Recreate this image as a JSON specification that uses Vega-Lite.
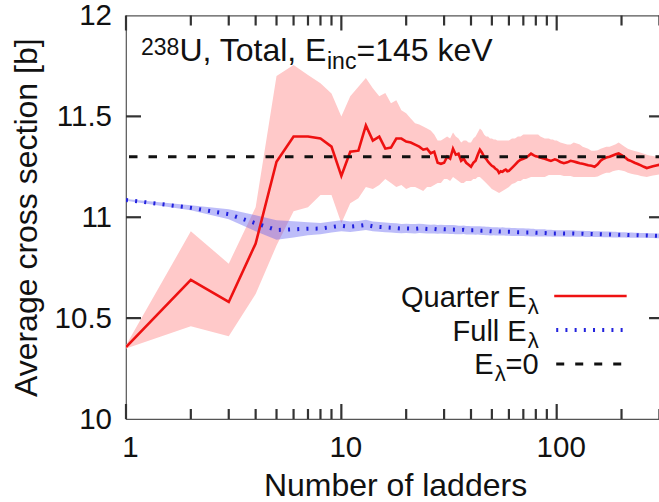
{
  "$schema": "https://vega.github.io/schema/vega-lite/v6.json",
  "width": 538,
  "height": 403.5,
  "autosize": "none",
  "padding": {"left": 126, "top": 15.5, "right": 0, "bottom": 83},
  "background": "white",
  "config": {
    "font": "Liberation Sans",
    "view": {"stroke": "#555555", "strokeWidth": 1.2},
    "axis": {
      "domain": false,
      "grid": false,
      "ticks": false,
      "tickSize": 0,
      "labelFont": "Liberation Sans",
      "labelFontSize": 29.5,
      "labelColor": "#111111",
      "titleFont": "Liberation Sans",
      "titleFontSize": 32,
      "titleFontWeight": "normal",
      "titleColor": "#111111"
    }
  },
  "datasets": {
    "ladders": [
      {"n": 1, "q": 10.356, "q_lo": 10.350, "q_hi": 10.365, "f": 11.086, "f_lo": 11.082, "f_hi": 11.090},
      {"n": 2, "q": 10.690, "q_lo": 10.460, "q_hi": 10.930, "f": 11.047, "f_lo": 11.035, "f_hi": 11.059},
      {"n": 3, "q": 10.580, "q_lo": 10.410, "q_hi": 10.770, "f": 11.015, "f_lo": 10.990, "f_hi": 11.040},
      {"n": 4, "q": 10.870, "q_lo": 10.620, "q_hi": 11.050, "f": 10.970, "f_lo": 10.930, "f_hi": 11.010},
      {"n": 5, "q": 11.275, "q_lo": 10.860, "q_hi": 11.700, "f": 10.937, "f_lo": 10.889, "f_hi": 10.985},
      {"n": 6, "q": 11.400, "q_lo": 11.030, "q_hi": 11.755, "f": 10.940, "f_lo": 10.900, "f_hi": 10.980},
      {"n": 7, "q": 11.400, "q_lo": 11.050, "q_hi": 11.705, "f": 10.943, "f_lo": 10.911, "f_hi": 10.975},
      {"n": 8, "q": 11.390, "q_lo": 11.110, "q_hi": 11.664, "f": 10.944, "f_lo": 10.916, "f_hi": 10.972},
      {"n": 9, "q": 11.350, "q_lo": 11.110, "q_hi": 11.614, "f": 10.952, "f_lo": 10.925, "f_hi": 10.979},
      {"n": 10, "q": 11.205, "q_lo": 10.970, "q_hi": 11.500, "f": 10.958, "f_lo": 10.931, "f_hi": 10.985},
      {"n": 11, "q": 11.325, "q_lo": 11.070, "q_hi": 11.600, "f": 10.953, "f_lo": 10.927, "f_hi": 10.979},
      {"n": 12, "q": 11.330, "q_lo": 11.094, "q_hi": 11.647, "f": 10.957, "f_lo": 10.932, "f_hi": 10.982},
      {"n": 13, "q": 11.455, "q_lo": 11.150, "q_hi": 11.690, "f": 10.962, "f_lo": 10.937, "f_hi": 10.987},
      {"n": 14, "q": 11.380, "q_lo": 11.140, "q_hi": 11.640, "f": 10.955, "f_lo": 10.931, "f_hi": 10.979},
      {"n": 15, "q": 11.400, "q_lo": 11.160, "q_hi": 11.600, "f": 10.952, "f_lo": 10.928, "f_hi": 10.976},
      {"n": 16, "q": 11.340, "q_lo": 11.190, "q_hi": 11.616, "f": 10.950, "f_lo": 10.926, "f_hi": 10.974},
      {"n": 17, "q": 11.345, "q_lo": 11.170, "q_hi": 11.565, "f": 10.948, "f_lo": 10.924, "f_hi": 10.972},
      {"n": 18, "q": 11.390, "q_lo": 11.150, "q_hi": 11.580, "f": 10.946, "f_lo": 10.922, "f_hi": 10.970},
      {"n": 19, "q": 11.390, "q_lo": 11.160, "q_hi": 11.530, "f": 10.944, "f_lo": 10.921, "f_hi": 10.967},
      {"n": 20, "q": 11.375, "q_lo": 11.140, "q_hi": 11.515, "f": 10.945, "f_lo": 10.922, "f_hi": 10.968},
      {"n": 21, "q": 11.370, "q_lo": 11.150, "q_hi": 11.490, "f": 10.944, "f_lo": 10.921, "f_hi": 10.967},
      {"n": 22, "q": 11.360, "q_lo": 11.150, "q_hi": 11.466, "f": 10.943, "f_lo": 10.920, "f_hi": 10.966},
      {"n": 23, "q": 11.350, "q_lo": 11.140, "q_hi": 11.460, "f": 10.945, "f_lo": 10.922, "f_hi": 10.968},
      {"n": 24, "q": 11.335, "q_lo": 11.130, "q_hi": 11.450, "f": 10.944, "f_lo": 10.921, "f_hi": 10.967},
      {"n": 25, "q": 11.340, "q_lo": 11.150, "q_hi": 11.440, "f": 10.942, "f_lo": 10.920, "f_hi": 10.964},
      {"n": 26, "q": 11.317, "q_lo": 11.150, "q_hi": 11.430, "f": 10.941, "f_lo": 10.919, "f_hi": 10.963},
      {"n": 27, "q": 11.325, "q_lo": 11.160, "q_hi": 11.410, "f": 10.942, "f_lo": 10.920, "f_hi": 10.964},
      {"n": 28, "q": 11.270, "q_lo": 11.170, "q_hi": 11.380, "f": 10.940, "f_lo": 10.918, "f_hi": 10.962},
      {"n": 29, "q": 11.265, "q_lo": 11.170, "q_hi": 11.380, "f": 10.941, "f_lo": 10.919, "f_hi": 10.963},
      {"n": 30, "q": 11.270, "q_lo": 11.190, "q_hi": 11.390, "f": 10.940, "f_lo": 10.918, "f_hi": 10.962},
      {"n": 31, "q": 11.300, "q_lo": 11.190, "q_hi": 11.400, "f": 10.940, "f_lo": 10.918, "f_hi": 10.962},
      {"n": 32, "q": 11.290, "q_lo": 11.180, "q_hi": 11.390, "f": 10.939, "f_lo": 10.917, "f_hi": 10.961},
      {"n": 33, "q": 11.340, "q_lo": 11.200, "q_hi": 11.420, "f": 10.939, "f_lo": 10.917, "f_hi": 10.961},
      {"n": 34, "q": 11.310, "q_lo": 11.190, "q_hi": 11.400, "f": 10.938, "f_lo": 10.916, "f_hi": 10.960},
      {"n": 35, "q": 11.315, "q_lo": 11.180, "q_hi": 11.390, "f": 10.937, "f_lo": 10.916, "f_hi": 10.958},
      {"n": 36, "q": 11.280, "q_lo": 11.170, "q_hi": 11.370, "f": 10.937, "f_lo": 10.916, "f_hi": 10.958},
      {"n": 37, "q": 11.290, "q_lo": 11.170, "q_hi": 11.380, "f": 10.938, "f_lo": 10.917, "f_hi": 10.959},
      {"n": 38, "q": 11.270, "q_lo": 11.180, "q_hi": 11.380, "f": 10.936, "f_lo": 10.915, "f_hi": 10.957},
      {"n": 39, "q": 11.260, "q_lo": 11.180, "q_hi": 11.370, "f": 10.936, "f_lo": 10.915, "f_hi": 10.957},
      {"n": 40, "q": 11.250, "q_lo": 11.180, "q_hi": 11.370, "f": 10.935, "f_lo": 10.914, "f_hi": 10.956},
      {"n": 41, "q": 11.270, "q_lo": 11.190, "q_hi": 11.390, "f": 10.935, "f_lo": 10.914, "f_hi": 10.956},
      {"n": 42, "q": 11.280, "q_lo": 11.190, "q_hi": 11.400, "f": 10.934, "f_lo": 10.913, "f_hi": 10.955},
      {"n": 43, "q": 11.310, "q_lo": 11.200, "q_hi": 11.420, "f": 10.935, "f_lo": 10.914, "f_hi": 10.956},
      {"n": 44, "q": 11.335, "q_lo": 11.200, "q_hi": 11.440, "f": 10.934, "f_lo": 10.913, "f_hi": 10.955},
      {"n": 45, "q": 11.320, "q_lo": 11.190, "q_hi": 11.430, "f": 10.933, "f_lo": 10.912, "f_hi": 10.954},
      {"n": 46, "q": 11.300, "q_lo": 11.180, "q_hi": 11.410, "f": 10.933, "f_lo": 10.912, "f_hi": 10.954},
      {"n": 47, "q": 11.290, "q_lo": 11.170, "q_hi": 11.400, "f": 10.932, "f_lo": 10.911, "f_hi": 10.953},
      {"n": 48, "q": 11.275, "q_lo": 11.160, "q_hi": 11.400, "f": 10.932, "f_lo": 10.911, "f_hi": 10.953},
      {"n": 49, "q": 11.265, "q_lo": 11.150, "q_hi": 11.390, "f": 10.931, "f_lo": 10.910, "f_hi": 10.952},
      {"n": 50, "q": 11.255, "q_lo": 11.140, "q_hi": 11.390, "f": 10.930, "f_lo": 10.910, "f_hi": 10.950},
      {"n": 51, "q": 11.250, "q_lo": 11.135, "q_hi": 11.385, "f": 10.931, "f_lo": 10.911, "f_hi": 10.951},
      {"n": 52, "q": 11.240, "q_lo": 11.130, "q_hi": 11.385, "f": 10.930, "f_lo": 10.910, "f_hi": 10.950},
      {"n": 53, "q": 11.235, "q_lo": 11.125, "q_hi": 11.380, "f": 10.930, "f_lo": 10.910, "f_hi": 10.950},
      {"n": 54, "q": 11.220, "q_lo": 11.120, "q_hi": 11.380, "f": 10.929, "f_lo": 10.909, "f_hi": 10.949},
      {"n": 55, "q": 11.228, "q_lo": 11.125, "q_hi": 11.380, "f": 10.929, "f_lo": 10.909, "f_hi": 10.949},
      {"n": 56, "q": 11.225, "q_lo": 11.130, "q_hi": 11.380, "f": 10.930, "f_lo": 10.910, "f_hi": 10.950},
      {"n": 57, "q": 11.232, "q_lo": 11.135, "q_hi": 11.380, "f": 10.929, "f_lo": 10.909, "f_hi": 10.949},
      {"n": 58, "q": 11.236, "q_lo": 11.140, "q_hi": 11.380, "f": 10.928, "f_lo": 10.908, "f_hi": 10.948},
      {"n": 59, "q": 11.228, "q_lo": 11.145, "q_hi": 11.380, "f": 10.928, "f_lo": 10.908, "f_hi": 10.948},
      {"n": 60, "q": 11.230, "q_lo": 11.150, "q_hi": 11.380, "f": 10.928, "f_lo": 10.908, "f_hi": 10.948},
      {"n": 62, "q": 11.245, "q_lo": 11.165, "q_hi": 11.390, "f": 10.927, "f_lo": 10.907, "f_hi": 10.947},
      {"n": 64, "q": 11.260, "q_lo": 11.170, "q_hi": 11.390, "f": 10.927, "f_lo": 10.907, "f_hi": 10.947},
      {"n": 66, "q": 11.275, "q_lo": 11.180, "q_hi": 11.400, "f": 10.926, "f_lo": 10.907, "f_hi": 10.945},
      {"n": 68, "q": 11.285, "q_lo": 11.180, "q_hi": 11.400, "f": 10.926, "f_lo": 10.907, "f_hi": 10.945},
      {"n": 70, "q": 11.290, "q_lo": 11.190, "q_hi": 11.410, "f": 10.926, "f_lo": 10.907, "f_hi": 10.945},
      {"n": 72, "q": 11.296, "q_lo": 11.190, "q_hi": 11.410, "f": 10.925, "f_lo": 10.906, "f_hi": 10.944},
      {"n": 74, "q": 11.305, "q_lo": 11.195, "q_hi": 11.410, "f": 10.925, "f_lo": 10.906, "f_hi": 10.944},
      {"n": 76, "q": 11.315, "q_lo": 11.200, "q_hi": 11.410, "f": 10.924, "f_lo": 10.905, "f_hi": 10.943},
      {"n": 78, "q": 11.308, "q_lo": 11.200, "q_hi": 11.410, "f": 10.924, "f_lo": 10.905, "f_hi": 10.943},
      {"n": 80, "q": 11.302, "q_lo": 11.200, "q_hi": 11.410, "f": 10.923, "f_lo": 10.905, "f_hi": 10.941},
      {"n": 82, "q": 11.300, "q_lo": 11.200, "q_hi": 11.410, "f": 10.923, "f_lo": 10.905, "f_hi": 10.941},
      {"n": 84, "q": 11.296, "q_lo": 11.200, "q_hi": 11.400, "f": 10.922, "f_lo": 10.904, "f_hi": 10.940},
      {"n": 86, "q": 11.292, "q_lo": 11.200, "q_hi": 11.395, "f": 10.922, "f_lo": 10.904, "f_hi": 10.940},
      {"n": 88, "q": 11.290, "q_lo": 11.200, "q_hi": 11.390, "f": 10.922, "f_lo": 10.904, "f_hi": 10.940},
      {"n": 90, "q": 11.286, "q_lo": 11.205, "q_hi": 11.390, "f": 10.921, "f_lo": 10.904, "f_hi": 10.938},
      {"n": 92, "q": 11.282, "q_lo": 11.210, "q_hi": 11.390, "f": 10.921, "f_lo": 10.904, "f_hi": 10.938},
      {"n": 94, "q": 11.279, "q_lo": 11.210, "q_hi": 11.385, "f": 10.921, "f_lo": 10.904, "f_hi": 10.938},
      {"n": 96, "q": 11.283, "q_lo": 11.210, "q_hi": 11.385, "f": 10.920, "f_lo": 10.903, "f_hi": 10.937},
      {"n": 98, "q": 11.287, "q_lo": 11.210, "q_hi": 11.380, "f": 10.920, "f_lo": 10.903, "f_hi": 10.937},
      {"n": 100, "q": 11.284, "q_lo": 11.210, "q_hi": 11.380, "f": 10.920, "f_lo": 10.904, "f_hi": 10.936},
      {"n": 104, "q": 11.274, "q_lo": 11.210, "q_hi": 11.370, "f": 10.920, "f_lo": 10.904, "f_hi": 10.936},
      {"n": 108, "q": 11.268, "q_lo": 11.205, "q_hi": 11.365, "f": 10.919, "f_lo": 10.903, "f_hi": 10.935},
      {"n": 112, "q": 11.272, "q_lo": 11.205, "q_hi": 11.360, "f": 10.919, "f_lo": 10.903, "f_hi": 10.935},
      {"n": 116, "q": 11.280, "q_lo": 11.205, "q_hi": 11.360, "f": 10.919, "f_lo": 10.903, "f_hi": 10.935},
      {"n": 120, "q": 11.276, "q_lo": 11.200, "q_hi": 11.370, "f": 10.919, "f_lo": 10.903, "f_hi": 10.935},
      {"n": 124, "q": 11.272, "q_lo": 11.200, "q_hi": 11.365, "f": 10.918, "f_lo": 10.903, "f_hi": 10.933},
      {"n": 128, "q": 11.268, "q_lo": 11.200, "q_hi": 11.360, "f": 10.918, "f_lo": 10.903, "f_hi": 10.933},
      {"n": 132, "q": 11.265, "q_lo": 11.200, "q_hi": 11.350, "f": 10.918, "f_lo": 10.903, "f_hi": 10.933},
      {"n": 136, "q": 11.262, "q_lo": 11.200, "q_hi": 11.345, "f": 10.917, "f_lo": 10.902, "f_hi": 10.932},
      {"n": 140, "q": 11.258, "q_lo": 11.200, "q_hi": 11.340, "f": 10.917, "f_lo": 10.902, "f_hi": 10.932},
      {"n": 145, "q": 11.255, "q_lo": 11.200, "q_hi": 11.330, "f": 10.917, "f_lo": 10.902, "f_hi": 10.932},
      {"n": 150, "q": 11.250, "q_lo": 11.200, "q_hi": 11.330, "f": 10.916, "f_lo": 10.902, "f_hi": 10.930},
      {"n": 155, "q": 11.262, "q_lo": 11.202, "q_hi": 11.332, "f": 10.916, "f_lo": 10.902, "f_hi": 10.930},
      {"n": 160, "q": 11.280, "q_lo": 11.210, "q_hi": 11.340, "f": 10.916, "f_lo": 10.902, "f_hi": 10.930},
      {"n": 165, "q": 11.290, "q_lo": 11.215, "q_hi": 11.345, "f": 10.915, "f_lo": 10.901, "f_hi": 10.929},
      {"n": 170, "q": 11.296, "q_lo": 11.220, "q_hi": 11.350, "f": 10.915, "f_lo": 10.901, "f_hi": 10.929},
      {"n": 176, "q": 11.300, "q_lo": 11.220, "q_hi": 11.350, "f": 10.915, "f_lo": 10.901, "f_hi": 10.929},
      {"n": 182, "q": 11.306, "q_lo": 11.228, "q_hi": 11.356, "f": 10.914, "f_lo": 10.900, "f_hi": 10.928},
      {"n": 188, "q": 11.312, "q_lo": 11.232, "q_hi": 11.362, "f": 10.914, "f_lo": 10.900, "f_hi": 10.928},
      {"n": 194, "q": 11.316, "q_lo": 11.234, "q_hi": 11.370, "f": 10.913, "f_lo": 10.900, "f_hi": 10.926},
      {"n": 200, "q": 11.308, "q_lo": 11.232, "q_hi": 11.360, "f": 10.913, "f_lo": 10.900, "f_hi": 10.926},
      {"n": 207, "q": 11.298, "q_lo": 11.228, "q_hi": 11.350, "f": 10.913, "f_lo": 10.900, "f_hi": 10.926},
      {"n": 214, "q": 11.285, "q_lo": 11.220, "q_hi": 11.340, "f": 10.912, "f_lo": 10.899, "f_hi": 10.925},
      {"n": 222, "q": 11.278, "q_lo": 11.215, "q_hi": 11.333, "f": 10.912, "f_lo": 10.899, "f_hi": 10.925},
      {"n": 230, "q": 11.270, "q_lo": 11.212, "q_hi": 11.328, "f": 10.911, "f_lo": 10.899, "f_hi": 10.923},
      {"n": 238, "q": 11.264, "q_lo": 11.210, "q_hi": 11.325, "f": 10.911, "f_lo": 10.899, "f_hi": 10.923},
      {"n": 246, "q": 11.257, "q_lo": 11.205, "q_hi": 11.320, "f": 10.910, "f_lo": 10.898, "f_hi": 10.922},
      {"n": 254, "q": 11.250, "q_lo": 11.202, "q_hi": 11.315, "f": 10.910, "f_lo": 10.898, "f_hi": 10.922},
      {"n": 262, "q": 11.244, "q_lo": 11.200, "q_hi": 11.310, "f": 10.910, "f_lo": 10.898, "f_hi": 10.922},
      {"n": 270, "q": 11.248, "q_lo": 11.203, "q_hi": 11.306, "f": 10.909, "f_lo": 10.897, "f_hi": 10.921},
      {"n": 280, "q": 11.253, "q_lo": 11.207, "q_hi": 11.303, "f": 10.909, "f_lo": 10.897, "f_hi": 10.921},
      {"n": 290, "q": 11.257, "q_lo": 11.210, "q_hi": 11.300, "f": 10.908, "f_lo": 10.896, "f_hi": 10.920},
      {"n": 300, "q": 11.260, "q_lo": 11.212, "q_hi": 11.300, "f": 10.908, "f_lo": 10.896, "f_hi": 10.920},
      {"n": 315, "q": 11.260, "q_lo": 11.215, "q_hi": 11.305, "f": 10.907, "f_lo": 10.895, "f_hi": 10.919}
    ]
  },
  "data": {"name": "ladders"},
  "layer": [
    {
      "mark": {"type": "area", "color": "#ffc9c9", "clip": true},
      "encoding": {
        "x": {
          "field": "n", "type": "quantitative",
          "scale": {"type": "log", "domain": [1, 315], "nice": false},
          "axis": {
            "orient": "bottom",
            "values": [1, 10, 100],
            "format": "~g",
            "labelPadding": 14,
            "labelBaseline": "top",
            "labelFlush": false,
            "labelOverlap": false,
            "labelOffset": 4,
            "title": "Number of ladders",
            "titleY": 76,
            "titleBaseline": "alphabetic"
          }
        },
        "y": {
          "field": "q_lo", "type": "quantitative",
          "scale": {"domain": [10, 12], "nice": false},
          "axis": {
            "orient": "left",
            "values": [10, 10.5, 11, 11.5, 12],
            "format": "~g",
            "labelPadding": 14.5,
            "labelOverlap": false,
            "title": "Average cross section [b]",
            "titleX": -90,
            "titleBaseline": "alphabetic"
          }
        },
        "y2": {"field": "q_hi"}
      }
    },
    {
      "mark": {"type": "area", "color": "#5a5af0", "opacity": 0.4, "clip": true},
      "encoding": {
        "x": {"field": "n", "type": "quantitative", "axis": null},
        "y": {"field": "f_lo", "type": "quantitative", "axis": null},
        "y2": {"field": "f_hi"}
      }
    },
    {
      "mark": {"type": "line", "color": "#ee1111", "strokeWidth": 2.6, "clip": true},
      "encoding": {
        "x": {"field": "n", "type": "quantitative", "axis": null},
        "y": {"field": "q", "type": "quantitative", "axis": null}
      }
    },
    {
      "mark": {"type": "line", "color": "#2222dd", "strokeWidth": 4, "strokeDash": [2, 7.2], "clip": true},
      "encoding": {
        "x": {"field": "n", "type": "quantitative", "axis": null},
        "y": {"field": "f", "type": "quantitative", "axis": null}
      }
    },
    {
      "data": {"values": [{"level": 11.3}]},
      "mark": {"type": "rule", "color": "#111111", "strokeWidth": 3, "strokeDash": [8.5, 11]},
      "encoding": {
        "y": {"field": "level", "type": "quantitative", "axis": null}
      }
    },
    {
      "transform": [{"filter": {"field": "n", "oneOf": [1, 10, 100]}}],
      "layer": [
        {
          "mark": {"type": "rule", "color": "#333333", "strokeWidth": 2.2},
          "encoding": {
            "x": {"field": "n", "type": "quantitative", "axis": null},
            "y": {"datum": 10, "type": "quantitative", "axis": null},
            "y2": {"datum": 10.0743}
          }
        },
        {
          "mark": {"type": "rule", "color": "#333333", "strokeWidth": 2.2},
          "encoding": {
            "x": {"field": "n", "type": "quantitative", "axis": null},
            "y": {"datum": 12, "type": "quantitative", "axis": null},
            "y2": {"datum": 11.9257}
          }
        }
      ]
    },
    {
      "transform": [{"filter": {"field": "n", "oneOf": [2, 3, 4, 5, 6, 7, 8, 9, 20, 30, 40, 50, 60, 70, 80, 90, 200, 300]}}],
      "layer": [
        {
          "mark": {"type": "rule", "color": "#333333", "strokeWidth": 2.2},
          "encoding": {
            "x": {"field": "n", "type": "quantitative", "axis": null},
            "y": {"datum": 10, "type": "quantitative", "axis": null},
            "y2": {"datum": 10.0496}
          }
        },
        {
          "mark": {"type": "rule", "color": "#333333", "strokeWidth": 2.2},
          "encoding": {
            "x": {"field": "n", "type": "quantitative", "axis": null},
            "y": {"datum": 12, "type": "quantitative", "axis": null},
            "y2": {"datum": 11.9504}
          }
        }
      ]
    },
    {
      "data": {"values": [{"key": "ticks"}]},
      "layer": [
        {"mark": {"type": "rule", "color": "#333333", "strokeWidth": 2.2}, "encoding": {"x": {"datum": 1, "type": "quantitative", "axis": null}, "x2": {"datum": 1.1738}, "y": {"datum": 10.5, "type": "quantitative", "axis": null}}},
        {"mark": {"type": "rule", "color": "#333333", "strokeWidth": 2.2}, "encoding": {"x": {"datum": 1, "type": "quantitative", "axis": null}, "x2": {"datum": 1.1738}, "y": {"datum": 11, "type": "quantitative", "axis": null}}},
        {"mark": {"type": "rule", "color": "#333333", "strokeWidth": 2.2}, "encoding": {"x": {"datum": 1, "type": "quantitative", "axis": null}, "x2": {"datum": 1.1738}, "y": {"datum": 11.5, "type": "quantitative", "axis": null}}},
        {"mark": {"type": "rule", "color": "#333333", "strokeWidth": 2.2}, "encoding": {"x": {"datum": 268.4, "type": "quantitative", "axis": null}, "x2": {"datum": 315}, "y": {"datum": 10.5, "type": "quantitative", "axis": null}}},
        {"mark": {"type": "rule", "color": "#333333", "strokeWidth": 2.2}, "encoding": {"x": {"datum": 268.4, "type": "quantitative", "axis": null}, "x2": {"datum": 315}, "y": {"datum": 11, "type": "quantitative", "axis": null}}},
        {"mark": {"type": "rule", "color": "#333333", "strokeWidth": 2.2}, "encoding": {"x": {"datum": 268.4, "type": "quantitative", "axis": null}, "x2": {"datum": 315}, "y": {"datum": 11.5, "type": "quantitative", "axis": null}}}
      ]
    },
    {
      "data": {"values": [{"key": "legend"}]},
      "layer": [
        {
          "mark": {"type": "rule", "color": "#ee1111", "strokeWidth": 2.6},
          "encoding": {
            "x": {"datum": 97.4, "type": "quantitative", "axis": null},
            "x2": {"datum": 211.3},
            "y": {"datum": 10.61, "type": "quantitative", "axis": null}
          }
        },
        {
          "mark": {"type": "rule", "color": "#2222dd", "strokeWidth": 4, "strokeDash": [2, 7.2]},
          "encoding": {
            "x": {"datum": 99.5, "type": "quantitative", "axis": null},
            "x2": {"datum": 211.3},
            "y": {"datum": 10.441, "type": "quantitative", "axis": null}
          }
        },
        {
          "mark": {"type": "rule", "color": "#111111", "strokeWidth": 3, "strokeDash": [8, 11]},
          "encoding": {
            "x": {"datum": 99.5, "type": "quantitative", "axis": null},
            "x2": {"datum": 211.3},
            "y": {"datum": 10.273, "type": "quantitative", "axis": null}
          }
        },
        {
          "mark": {"type": "text", "align": "right", "baseline": "alphabetic", "fontSize": 29, "color": "#111111", "dx": -12},
          "encoding": {
            "x": {"datum": 82.5, "type": "quantitative", "axis": null},
            "y": {"datum": 10.5576, "type": "quantitative", "axis": null},
            "text": {"value": "Quarter E"}
          }
        },
        {
          "mark": {"type": "text", "align": "right", "baseline": "alphabetic", "fontSize": 22, "color": "#111111", "dy": 7},
          "encoding": {
            "x": {"datum": 82.5, "type": "quantitative", "axis": null},
            "y": {"datum": 10.5576, "type": "quantitative", "axis": null},
            "text": {"value": "λ"}
          }
        },
        {
          "mark": {"type": "text", "align": "right", "baseline": "alphabetic", "fontSize": 29, "color": "#111111", "dx": -12},
          "encoding": {
            "x": {"datum": 82.5, "type": "quantitative", "axis": null},
            "y": {"datum": 10.389, "type": "quantitative", "axis": null},
            "text": {"value": "Full E"}
          }
        },
        {
          "mark": {"type": "text", "align": "right", "baseline": "alphabetic", "fontSize": 22, "color": "#111111", "dy": 7},
          "encoding": {
            "x": {"datum": 82.5, "type": "quantitative", "axis": null},
            "y": {"datum": 10.389, "type": "quantitative", "axis": null},
            "text": {"value": "λ"}
          }
        },
        {
          "mark": {"type": "text", "align": "right", "baseline": "alphabetic", "fontSize": 29, "color": "#111111", "dx": -45},
          "encoding": {
            "x": {"datum": 82.5, "type": "quantitative", "axis": null},
            "y": {"datum": 10.2206, "type": "quantitative", "axis": null},
            "text": {"value": "E"}
          }
        },
        {
          "mark": {"type": "text", "align": "right", "baseline": "alphabetic", "fontSize": 22, "color": "#111111", "dx": -33, "dy": 7},
          "encoding": {
            "x": {"datum": 82.5, "type": "quantitative", "axis": null},
            "y": {"datum": 10.2206, "type": "quantitative", "axis": null},
            "text": {"value": "λ"}
          }
        },
        {
          "mark": {"type": "text", "align": "right", "baseline": "alphabetic", "fontSize": 29, "color": "#111111"},
          "encoding": {
            "x": {"datum": 82.5, "type": "quantitative", "axis": null},
            "y": {"datum": 10.2206, "type": "quantitative", "axis": null},
            "text": {"value": "=0"}
          }
        },
        {
          "mark": {"type": "text", "align": "left", "baseline": "alphabetic", "fontSize": 23, "color": "#111111", "dy": -6},
          "encoding": {
            "x": {"datum": 1.174, "type": "quantitative", "axis": null},
            "y": {"datum": 11.7745, "type": "quantitative", "axis": null},
            "text": {"value": "238"}
          }
        },
        {
          "mark": {"type": "text", "align": "left", "baseline": "alphabetic", "fontSize": 32, "color": "#111111", "dx": 38.4},
          "encoding": {
            "x": {"datum": 1.174, "type": "quantitative", "axis": null},
            "y": {"datum": 11.7745, "type": "quantitative", "axis": null},
            "text": {"value": "U, Total, E"}
          }
        },
        {
          "mark": {"type": "text", "align": "left", "baseline": "alphabetic", "fontSize": 23, "color": "#111111", "dx": 186, "dy": 8},
          "encoding": {
            "x": {"datum": 1.174, "type": "quantitative", "axis": null},
            "y": {"datum": 11.7745, "type": "quantitative", "axis": null},
            "text": {"value": "inc"}
          }
        },
        {
          "mark": {"type": "text", "align": "left", "baseline": "alphabetic", "fontSize": 32, "color": "#111111", "dx": 215.5},
          "encoding": {
            "x": {"datum": 1.174, "type": "quantitative", "axis": null},
            "y": {"datum": 11.7745, "type": "quantitative", "axis": null},
            "text": {"value": "=145 keV"}
          }
        }
      ]
    }
  ],
  "resolve": {"axis": {"x": "independent", "y": "independent"}}
}
